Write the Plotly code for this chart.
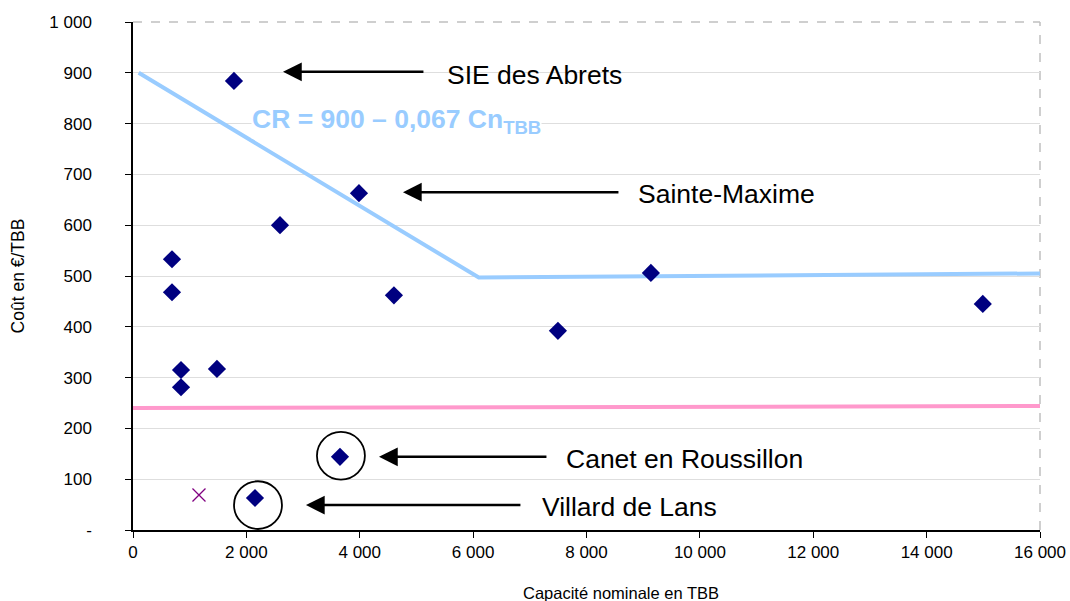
import plotly.graph_objects as go

# Data points (capacity in TBB, cost in €/TBB)
cap = [1781, 688, 688, 847, 847, 1481, 2593, 3986, 4603, 7496, 9136, 14991, 3651, 2152]
cost = [884, 533, 468, 315, 281, 317, 600, 663, 462, 392, 506, 445, 144, 63]

cross_x = [1164]
cross_y = [69]

# Reference curve (CR = 900 - 0,067 Cn)
cr_x = [100, 6100, 16000]
cr_y = [900, 497, 505]

# Pink reference line
pink_x = [0, 16000]
pink_y = [240, 244]

x_ticks = [0, 2000, 4000, 6000, 8000, 10000, 12000, 14000, 16000]
x_ticktext = ["0", "2 000", "4 000", "6 000", "8 000", "10 000", "12 000", "14 000", "16 000"]
y_ticks = [0, 100, 200, 300, 400, 500, 600, 700, 800, 900, 1000]
y_ticktext = ["-", "100", "200", "300", "400", "500", "600", "700", "800", "900", "1 000"]

# Labels: name, arrow head x, arrow tail x, arrow y, text x, text y
lab_names = ["SIE des Abrets", "Sainte-Maxime", "Canet en Roussillon", "Villard de Lans"]
lab_head_x = [2646, 4762, 4339, 3051]
lab_tail_x = [5150, 8590, 7320, 6861]
lab_arrow_y = [902, 665, 144, 49]
lab_text_x = [5500, 8870, 7600, 7180]
lab_text_y = [896, 661, 140, 45]

# circles (center x, center y)
circ_x = [3668, 2205]
circ_y = [146, 49]
circ_rx = 423
circ_ry = 47

FONT = "Liberation Sans, Arial, sans-serif"

fig = go.Figure()
fig.add_trace(go.Scatter(x=pink_x, y=pink_y, mode="lines",
                         line=dict(color="#ff99cc", width=4), hoverinfo="skip"))
fig.add_trace(go.Scatter(x=cr_x, y=cr_y, mode="lines",
                         line=dict(color="#99ccff", width=4), hoverinfo="skip"))
fig.add_trace(go.Scatter(x=cap, y=cost, mode="markers",
                         marker=dict(symbol="diamond", color="#000080", size=14)))
fig.add_trace(go.Scatter(x=cross_x, y=cross_y, mode="markers",
                         marker=dict(symbol="x-thin", size=13,
                                     line=dict(color="#800080", width=1.3))))

annotations = []
for name, hx, tx, ay, txx, tyy in zip(lab_names, lab_head_x, lab_tail_x, lab_arrow_y, lab_text_x, lab_text_y):
    annotations.append(dict(x=hx, y=ay, ax=tx, ay=ay, axref="x", ayref="y", xref="x", yref="y",
                            text="", showarrow=True, arrowhead=2, arrowsize=1.5,
                            arrowwidth=2.5, arrowcolor="black"))
    annotations.append(dict(x=txx, y=tyy, xref="x", yref="y", text=name, showarrow=False,
                            xanchor="left", yanchor="middle",
                            font=dict(family=FONT, size=26.5, color="black")))
annotations.append(dict(x=2080, y=806, xref="x", yref="y",
                        text="<b>CR = 900 – 0,067 Cn<sub>TBB</sub></b>", showarrow=False,
                        xanchor="left", yanchor="middle", bgcolor="white", borderpad=0,
                        font=dict(family=FONT, size=26.5, color="#99ccff")))
# x axis title
annotations.append(dict(x=8600, y=0, xref="x", yref="paper", yanchor="top", yshift=-52,
                        text="Capacité nominale en TBB", showarrow=False,
                        font=dict(family=FONT, size=16.5, color="black")))

shapes = []
for cx, cy in zip(circ_x, circ_y):
    shapes.append(dict(type="circle", xref="x", yref="y",
                       x0=cx - circ_rx, x1=cx + circ_rx, y0=cy - circ_ry, y1=cy + circ_ry,
                       line=dict(color="black", width=1.8)))
# dashed top and right borders
shapes.append(dict(type="line", xref="paper", yref="paper", x0=0, x1=1, y0=1, y1=1,
                   line=dict(color="#c0c0c0", width=1.5, dash="dash"), layer="below"))
shapes.append(dict(type="line", xref="paper", yref="paper", x0=1, x1=1, y0=0, y1=1,
                   line=dict(color="#c0c0c0", width=1.5, dash="dash"), layer="below"))

fig.update_layout(
    width=1070, height=601,
    margin=dict(l=133, r=30, t=22, b=71),
    paper_bgcolor="white", plot_bgcolor="white",
    showlegend=False,
    font=dict(family=FONT, size=17, color="black"),
    annotations=annotations, shapes=shapes,
    xaxis=dict(range=[0, 16000], tickvals=x_ticks, ticktext=x_ticktext,
               tickfont=dict(size=17), automargin=False, ticklabeloverflow="allow",
               showline=True, linecolor="black", linewidth=1.5,
               ticks="outside", ticklen=6, tickcolor="black",
               showgrid=False, zeroline=False),
    yaxis=dict(range=[0, 1000], tickvals=y_ticks, ticktext=y_ticktext,
               tickfont=dict(size=17), ticklabelstandoff=30, automargin=False,
               showline=True, linecolor="black", linewidth=1.5,
               ticks="outside", ticklen=6, tickcolor="black",
               showgrid=True, gridcolor="#dedede", gridwidth=1, zeroline=False,
               title=dict(text="Coût en €/TBB", font=dict(size=17.5), standoff=20)),
)

fig.write_html("out.html", config={"displayModeBar": False},
               post_script="document.body.style.margin='0';document.body.style.overflow='hidden';")
